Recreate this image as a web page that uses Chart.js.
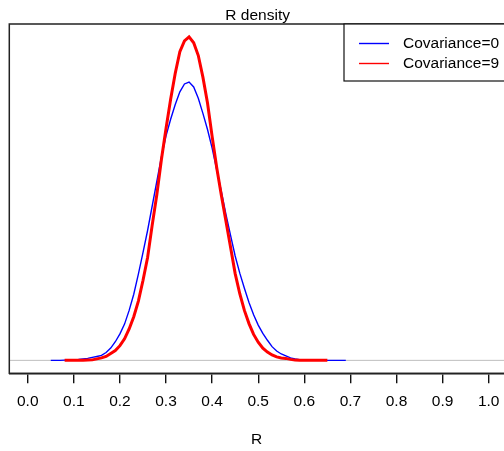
<!DOCTYPE html>
<html>
<head>
<meta charset="utf-8">
<script src="https://cdn.jsdelivr.net/npm/chart.js@4.4.1/dist/chart.umd.min.js"></script>
<style>
  body { margin: 0; background: #fff; }
  #wrap { width: 504px; height: 451px; }
</style>
</head>
<body>
<div id="wrap"><canvas id="myChart"></canvas></div>
<script>
// R values on a 0.01 grid
var rGrid = [0.05, 0.06, 0.07, 0.08, 0.09, 0.10, 0.11, 0.12, 0.13, 0.14,
  0.15, 0.16, 0.17, 0.18, 0.19, 0.20, 0.21, 0.22, 0.23, 0.24,
  0.25, 0.26, 0.27, 0.28, 0.29, 0.30, 0.31, 0.32, 0.33, 0.34,
  0.35, 0.36, 0.37, 0.38, 0.39, 0.40, 0.41, 0.42, 0.43, 0.44,
  0.45, 0.46, 0.47, 0.48, 0.49, 0.50, 0.51, 0.52, 0.53, 0.54,
  0.55, 0.56, 0.57, 0.58, 0.59, 0.60, 0.61, 0.62, 0.63, 0.64,
  0.65, 0.66, 0.67, 0.68, 0.69];

// density, Covariance=0
var densCov0 = [0, 0, 0, 0.005, 0.01, 0.015, 0.02, 0.03, 0.04, 0.06,
  0.08, 0.10, 0.16, 0.25, 0.38, 0.54, 0.74, 1.02, 1.35, 1.76,
  2.20, 2.65, 3.15, 3.65, 4.15, 4.58, 4.92, 5.22, 5.48, 5.64,
  5.68, 5.58, 5.35, 5.04, 4.71, 4.33, 3.89, 3.45, 2.98, 2.55,
  2.13, 1.78, 1.47, 1.18, 0.93, 0.72, 0.55, 0.41, 0.28, 0.19,
  0.13, 0.09, 0.05, 0.03, 0.015, 0.01, 0.005, 0, 0, 0,
  0, 0, 0, 0, 0];

// density, Covariance=9
var densCov9 = [null, null, null, 0, 0, 0, 0, 0, 0.005, 0.01,
  0.03, 0.05, 0.08, 0.14, 0.20, 0.30, 0.44, 0.64, 0.89, 1.21,
  1.63, 2.10, 2.76, 3.38, 4.10, 4.73, 5.33, 5.86, 6.30, 6.52,
  6.60, 6.48, 6.22, 5.78, 5.25, 4.57, 3.93, 3.37, 2.84, 2.31,
  1.77, 1.36, 1.02, 0.75, 0.53, 0.37, 0.25, 0.17, 0.11, 0.07,
  0.05, 0.04, 0.02, 0.005, 0, 0, 0, 0, 0, 0,
  0, null, null, null, null];

var xTicks = [0, 0.1, 0.2, 0.3, 0.4, 0.5, 0.6, 0.7, 0.8, 0.9, 1.0];
var xTickLabels = ['0.0', '0.1', '0.2', '0.3', '0.4', '0.5', '0.6', '0.7', '0.8', '0.9', '1.0'];
var seriesNames = ['Covariance=0', 'Covariance=9'];

var FONT = '"Liberation Sans", Arial, sans-serif';
var yTop = Math.max.apply(null, densCov9.filter(function(v) { return v !== null; }));

function pts(ys) {
  return rGrid.map(function(x, i) { return {x: x, y: ys[i]}; });
}

// box, grey zero line, title and legend like base R graphics
var rDecor = {
  id: 'rDecor',
  beforeDatasetsDraw: function(chart) {
    var c = chart.ctx, a = chart.chartArea;
    var y0 = chart.scales.y.getPixelForValue(0);
    c.save();
    c.strokeStyle = '#bebebe';
    c.lineWidth = 1;
    c.beginPath();
    c.moveTo(a.left, y0);
    c.lineTo(a.right, y0);
    c.stroke();
    c.restore();
  },
  afterDraw: function(chart) {
    var c = chart.ctx, a = chart.chartArea;
    c.save();
    c.strokeStyle = '#222';
    c.lineWidth = 1.5;
    c.strokeRect(a.left, a.top, a.right - a.left + 5, a.bottom - a.top);

    c.fillStyle = '#000';
    c.font = '15.5px ' + FONT;
    c.textAlign = 'center';
    c.textBaseline = 'middle';
    c.fillText('R density', (a.left + a.right) / 2 + 1, 15.5);

    // legend
    c.fillStyle = '#fff';
    c.fillRect(344, a.top, 200, 57);
    c.strokeStyle = '#111';
    c.lineWidth = 1.2;
    c.strokeRect(344, a.top, 200, 57);
    var cols = ['#0000ff', '#ff0000'];
    for (var i = 0; i < seriesNames.length; i++) {
      var ly = 43.5 + i * 20;
      c.strokeStyle = cols[i];
      c.lineWidth = 1.4;
      c.beginPath();
      c.moveTo(359, ly);
      c.lineTo(389, ly);
      c.stroke();
      c.fillStyle = '#000';
      c.textAlign = 'left';
      c.fillText(seriesNames[i], 403, ly);
    }
    c.restore();
  }
};

var ctx = document.getElementById('myChart');
var densChart = new Chart(ctx, {
  type: 'line',
  data: {
    datasets: [
      {
        label: seriesNames[1],
        data: pts(densCov9),
        borderColor: '#ff0000',
        borderWidth: 3,
        pointRadius: 0,
        tension: 0,
        order: 0
      },
      {
        label: seriesNames[0],
        data: pts(densCov0),
        borderColor: '#0000ff',
        borderWidth: 1.4,
        pointRadius: 0,
        tension: 0,
        order: 1
      }
    ]
  },
  options: {
    responsive: true,
    maintainAspectRatio: false,
    animation: false,
    layout: { padding: { top: 24, left: 9.3, right: 0, bottom: 0 } },
    plugins: {
      legend: { display: false },
      title: { display: false },
      tooltip: { enabled: false }
    },
    scales: {
      x: {
        type: 'linear',
        min: -0.04,
        max: 1.0332,
        afterBuildTicks: function(scale) {
          scale.ticks = xTicks.map(function(v) { return {value: v}; });
        },
        afterFit: function(scale) {
          scale.height = 77.7;
          scale.paddingLeft = 0;
          scale.paddingRight = 0;
        },
        grid: {
          drawOnChartArea: false,
          drawTicks: true,
          tickLength: 10,
          color: '#111',
          lineWidth: 1.4
        },
        border: { display: true, color: '#222', width: 1.5 },
        ticks: {
          autoSkip: false,
          maxRotation: 0,
          padding: 9.5,
          color: '#000',
          font: { family: FONT, size: 15.5 },
          callback: function(v) {
            var k = xTicks.indexOf(v);
            return k >= 0 ? xTickLabels[k] : '';
          }
        },
        title: {
          display: true,
          text: 'R',
          color: '#000',
          font: { family: FONT, size: 15.5 },
          padding: { top: 0, bottom: 1.7 }
        }
      },
      y: {
        display: false,
        min: -0.04 * yTop,
        max: 1.04 * yTop
      }
    }
  },
  plugins: [rDecor]
});
</script>
</body>
</html>
